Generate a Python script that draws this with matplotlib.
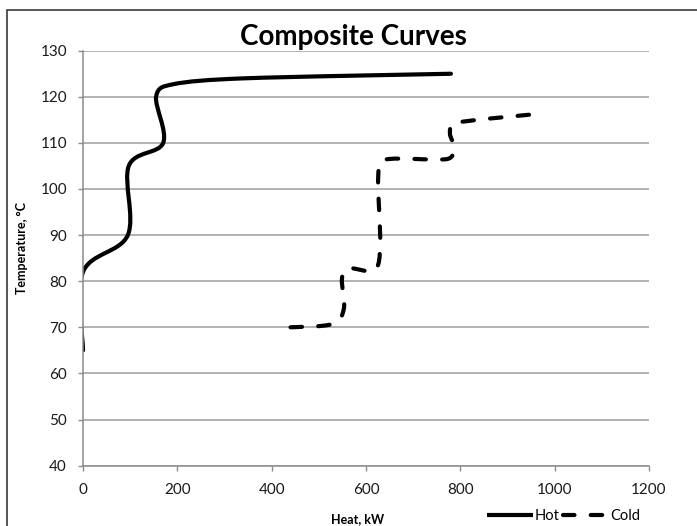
import numpy as np
import matplotlib
matplotlib.use("Agg")
import matplotlib.pyplot as plt
from matplotlib.path import Path
from matplotlib.patches import PathPatch, Rectangle
from matplotlib.lines import Line2D

plt.rcParams['font.family'] = ['Lato', 'DejaVu Sans']

# composite curve points (heat kW, temperature C)
hot_q = [0, 0, 95, 97, 170, 155, 190, 340, 780]
hot_t = [65, 82, 90, 105, 110, 120, 122.7, 124.0, 125]

cold_q = [440, 528, 553, 549, 563, 618, 630, 626, 642, 772, 787, 778, 788, 965]
cold_t = [70, 70.7, 74, 80.5, 82.8, 82.4, 88, 103, 106.4, 106.5, 109, 112, 114.3, 116.3]

x_ticks = [0, 200, 400, 600, 800, 1000, 1200]
y_ticks = [40, 50, 60, 70, 80, 90, 100, 110, 120, 130]


def smooth_path(ax, xs, ys):
    # Excel-like smoothed line: cubic bezier through the points,
    # control points built in screen space
    pts = ax.transData.transform(np.column_stack([xs, ys]))
    n = len(pts)
    verts = [pts[0]]
    codes = [Path.MOVETO]
    for i in range(n - 1):
        p0 = pts[max(i - 1, 0)]
        p1 = pts[i]
        p2 = pts[i + 1]
        p3 = pts[min(i + 2, n - 1)]
        seg = np.hypot(*(p2 - p1))
        t1 = (p2 - p0) / 6.0
        t2 = (p3 - p1) / 6.0
        for t in (t1, t2):
            ln = np.hypot(*t)
            if ln > 0.5 * seg:
                t *= 0.5 * seg / ln
        verts += [p1 + t1, p2 - t2, p2]
        codes += [Path.CURVE4] * 3
    verts = ax.transData.inverted().transform(np.array(verts))
    return Path(verts, codes)


fig = plt.figure(figsize=(6.97, 5.26), dpi=100)
ax = fig.add_axes([83/697, 1-465.6/526, (649-83)/697, (465.6-50.7)/526])
ax.set_xlim(0, 1200)
ax.set_ylim(40, 130)

grid_c = '#a6a6a6'
ax.set_xticks(x_ticks)
ax.set_yticks(y_ticks)
ax.yaxis.grid(True, color=grid_c, lw=1.2)
ax.set_axisbelow(True)
for s in ['top', 'right']:
    ax.spines[s].set_visible(False)
for s in ['left', 'bottom']:
    ax.spines[s].set_color('#8c8c8c')
    ax.spines[s].set_linewidth(1.1)
ax.tick_params(axis='both', direction='out', length=3.5, width=1.0,
               color='#8c8c8c', labelsize=11, labelcolor='#1a1a1a')
ax.tick_params(axis='y', pad=8)
ax.tick_params(axis='x', pad=9)

lw = 3.0
hot_style = dict(color='black', lw=lw, linestyle='-', capstyle='round', joinstyle='round')
cold_style = dict(color='black', lw=lw, linestyle=(0, (2.75, 3.9)), capstyle='round', joinstyle='round')

ax.add_patch(PathPatch(smooth_path(ax, hot_q, hot_t), fill=False, **hot_style))
ax.add_patch(PathPatch(smooth_path(ax, cold_q, cold_t), fill=False, **cold_style))

fig.text(353/697, 1-45/526, 'Composite Curves', ha='center', va='baseline',
         fontsize=20, fontweight='bold')
fig.text(22/697, 1-248/526, 'Temperature, °C', rotation=90, ha='center', va='center',
         fontsize=9, fontweight='bold')
fig.text(358/697, 1-523/526, 'Heat, kW', ha='center', va='baseline',
         fontsize=9, fontweight='bold')

handles = [Line2D([], [], color='black', lw=lw, solid_capstyle='butt'),
           Line2D([], [], color='black', lw=lw, linestyle=(0, (2.75, 3.9)), dash_capstyle='round')]
ax.legend(handles, ['Hot', 'Cold'], loc='center', bbox_to_anchor=(564/697, 1-516/526),
          bbox_transform=fig.transFigure, ncol=2, frameon=False, fontsize=10.5,
          handlelength=3.1, handletextpad=0.15, columnspacing=0.25, borderpad=0)

# chart border (left and top visible in the crop)
fig.patches.append(Rectangle((7/697, -0.5), 2.0, 0.5 + 1 - 10/526, transform=fig.transFigure,
                             fill=False, edgecolor='#3a3a3a', lw=1.2))

fig.savefig('out.png', dpi=100)
